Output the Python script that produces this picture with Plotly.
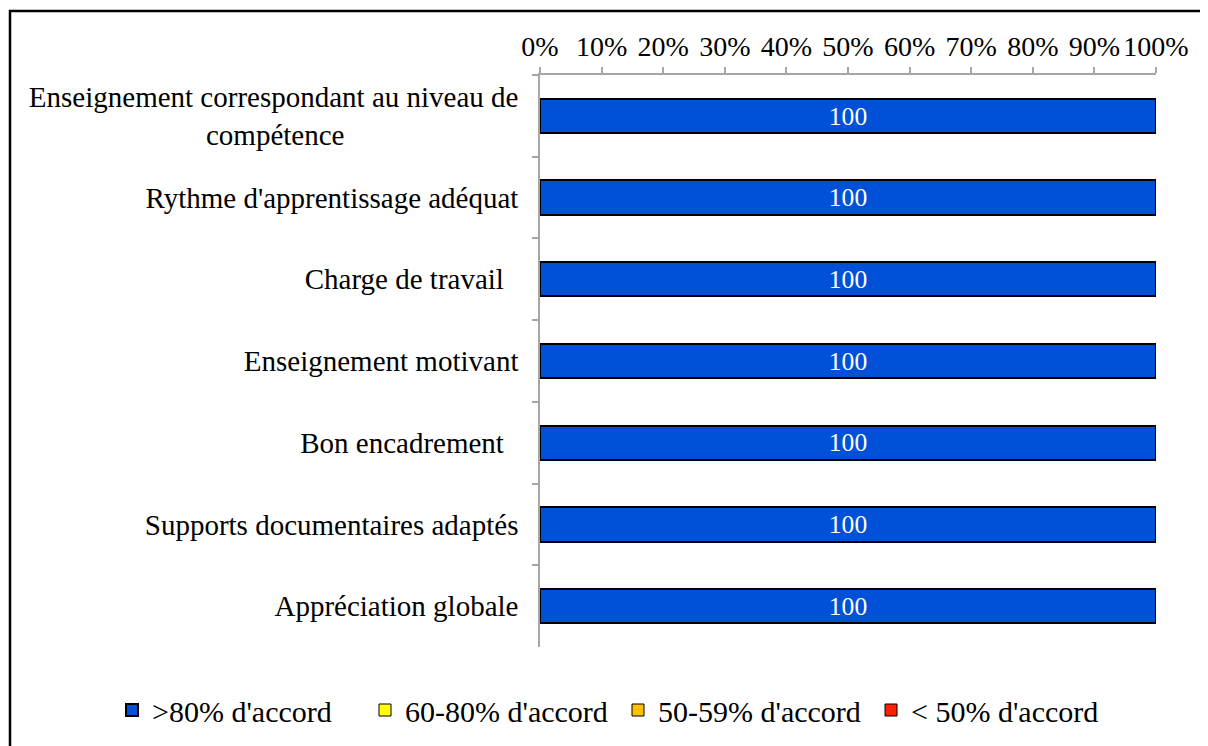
import plotly.graph_objects as go

categories = [
    "Enseignement correspondant au niveau de<br>compétence" + "\u00a0" * 24,
    "Rythme d'apprentissage adéquat",
    "Charge de travail\u00a0\u00a0",
    "Enseignement motivant",
    "Bon encadrement\u00a0\u00a0",
    "Supports documentaires adaptés",
    "Appréciation globale",
]
series_names = [">80% d'accord", "60-80% d'accord", "50-59% d'accord", "< 50% d'accord"]
series_values = [
    [100, 100, 100, 100, 100, 100, 100],
    [0, 0, 0, 0, 0, 0, 0],
    [0, 0, 0, 0, 0, 0, 0],
    [0, 0, 0, 0, 0, 0, 0],
]
series_colors = ["#0050D8", "#FFFF00", "#FFC000", "#FF2000"]
x_ticks = [0, 10, 20, 30, 40, 50, 60, 70, 80, 90, 100]
x_ticklabels = [f"{v}%" for v in x_ticks]

FONT = "Liberation Serif"
W, H = 1208, 746
OFF = 8  # default page margin of the html body
L, R, T, B = 540 - OFF, 1208 - (1156 - OFF), 75 - OFF, 746 - (647 - OFF)
pw, ph = W - L - R, H - T - B

fig = go.Figure()
for i, (name, vals, col) in enumerate(zip(series_names, series_values, series_colors)):
    fig.add_trace(go.Bar(
        y=categories, x=vals, name=name, orientation="h",
        marker=dict(color=col, line=dict(color="#000000", width=2 if i == 0 else 1)),
        text=[str(v) for v in vals] if i == 0 else None,
        textposition="inside" if i == 0 else "none",
        insidetextanchor="middle",
        textfont=dict(family=FONT, size=28, color="white"),
        hoverinfo="x+y",
    ))

def px_x(p):
    return (p - OFF - L) / pw

def px_y(p):
    return (H - B - (p - OFF)) / ph

fig.update_layout(
    width=W, height=H,
    margin=dict(l=L, r=R, t=T, b=B),
    barmode="stack",
    bargap=0.58,
    plot_bgcolor="white", paper_bgcolor="white",
    font=dict(family=FONT, size=28, color="#000000"),
    xaxis=dict(
        side="top", range=[0, 100], tickvals=x_ticks, ticktext=x_ticklabels,
        showgrid=False, zeroline=False, showline=True, linecolor="#A6A6A6", linewidth=1.5,
        ticks="outside", ticklen=6, tickcolor="#A6A6A6", tickwidth=1.5,
        tickfont=dict(family=FONT, size=28), fixedrange=True,
    ),
    yaxis=dict(
        autorange="reversed", type="category",
        showgrid=False, zeroline=False, showline=True, linecolor="#A6A6A6", linewidth=1.5,
        ticks="outside", ticklen=6, tickcolor="#A6A6A6", tickwidth=1.5,
        tickson="boundaries", ticklabelstandoff=14,
        tickfont=dict(family=FONT, size=29), fixedrange=True,
    ),
    legend=dict(
        orientation="h", xref="paper", yref="paper",
        x=px_x(112), xanchor="left", y=px_y(710), yanchor="middle",
        font=dict(family=FONT, size=30), traceorder="normal", itemwidth=30,
        entrywidth=208, entrywidthmode="pixels",
        bgcolor="rgba(0,0,0,0)",
    ),
    showlegend=True,
    shapes=[dict(
        type="rect", xref="paper", yref="paper",
        x0=px_x(10), x1=px_x(1240), y0=px_y(780), y1=px_y(11),
        line=dict(color="#000000", width=2.5), fillcolor="rgba(0,0,0,0)", layer="above",
    )],
)

fig.write_html("out.html")
